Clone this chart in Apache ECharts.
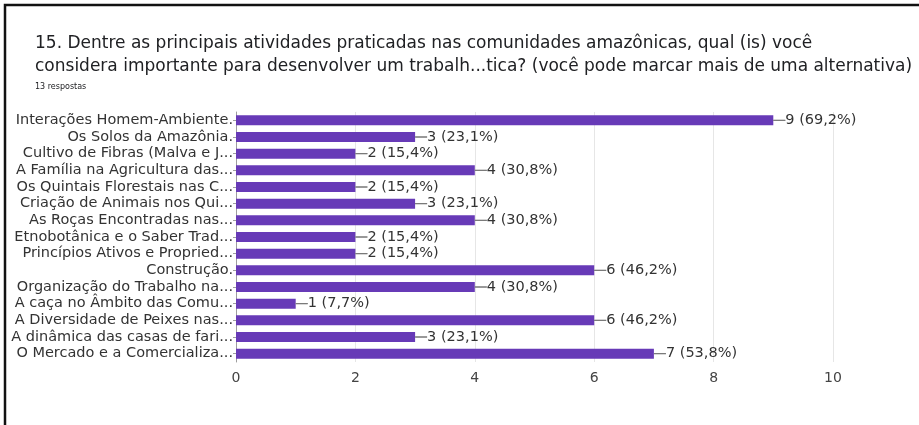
<!DOCTYPE html>
<html>
<head>
<meta charset="utf-8">
<script src="https://cdn.jsdelivr.net/npm/echarts@6/dist/echarts.min.js"></script>
<style>
  html, body { margin: 0; padding: 0; background: #fff; }
  #chart { width: 919px; height: 425px; }
</style>
</head>
<body>
<div id="chart"></div>
<script>
// Survey question and response count
const questionLines = [
  '15. Dentre as principais atividades praticadas nas comunidades amazônicas, qual (is) você',
  'considera importante para desenvolver um trabalh...tica? (você pode marcar mais de uma alternativa)'
];
const totalResponses = 13;

// Answer options (as truncated in the form summary)
const categories = [
  'Interações Homem-Ambiente.',
  'Os Solos da Amazônia.',
  'Cultivo de Fibras (Malva e J...',
  'A Família na Agricultura das...',
  'Os Quintais Florestais nas C...',
  'Criação de Animais nos Qui...',
  'As Roças Encontradas nas...',
  'Etnobotânica e o Saber Trad...',
  'Princípios Ativos e Propried...',
  'Construção.',
  'Organização do Trabalho na...',
  'A caça no Âmbito das Comu...',
  'A Diversidade de Peixes nas...',
  'A dinâmica das casas de fari...',
  'O Mercado e a Comercializa...'
];

// Number of respondents choosing each option
const counts = [9, 3, 2, 4, 2, 3, 4, 2, 2, 6, 4, 1, 6, 3, 7];

// Value axis ticks
const xTicks = [0, 2, 4, 6, 8, 10];

const FONT = 'DejaVu Sans';

function pctText(v) {
  return (v / totalResponses * 100).toFixed(1).replace('.', ',');
}

const chart = echarts.init(document.getElementById('chart'), null, { renderer: 'canvas' });

chart.setOption({
  animation: false,
  backgroundColor: '#fff',
  title: {
    text: questionLines.join('\n'),
    subtext: totalResponses + ' respostas',
    left: 30,
    top: 27,
    itemGap: 5,
    textStyle: {
      fontFamily: FONT,
      fontSize: 17,
      fontWeight: 'normal',
      color: '#202124',
      lineHeight: 23
    },
    subtextStyle: {
      fontFamily: FONT,
      fontSize: 8,
      color: '#202124'
    }
  },
  graphic: [{
    type: 'polyline',
    silent: true,
    shape: { points: [[5, 425], [5, 5], [919, 5]] },
    style: { stroke: '#111', lineWidth: 2.5, fill: null }
  }],
  grid: {
    left: 236,
    right: 86,
    top: 112,
    bottom: 63,
    containLabel: false
  },
  xAxis: {
    type: 'value',
    min: xTicks[0],
    max: xTicks[xTicks.length - 1],
    interval: xTicks[1] - xTicks[0],
    axisLine: { show: false },
    axisTick: { show: false },
    splitLine: { lineStyle: { color: '#e6e6e6', width: 1 } },
    axisLabel: {
      margin: 9,
      fontFamily: FONT,
      fontSize: 14,
      color: '#444'
    }
  },
  yAxis: {
    type: 'category',
    inverse: true,
    data: categories,
    axisLine: { show: true, lineStyle: { color: '#9e9e9e', width: 1 } },
    axisTick: { show: true, length: 3, alignWithLabel: true, interval: 0, lineStyle: { color: '#9e9e9e' } },
    axisLabel: {
      interval: 0,
      margin: 3,
      fontFamily: FONT,
      fontSize: 14.5,
      color: '#333'
    }
  },
  series: [{
    type: 'bar',
    data: counts,
    barCategoryGap: '40%',
    itemStyle: { color: '#673ab7' },
    label: {
      show: true,
      position: 'right',
      distance: 0,
      formatter: function (p) {
        return '{l|}{t|' + p.value + ' (' + pctText(p.value) + '%)}';
      },
      rich: {
        l: { width: 12, height: 0, borderColor: '#777', borderWidth: 1, verticalAlign: 'middle' },
        t: { fontFamily: FONT, fontSize: 14.5, color: '#333', verticalAlign: 'middle' }
      }
    }
  }]
});
</script>
</body>
</html>
